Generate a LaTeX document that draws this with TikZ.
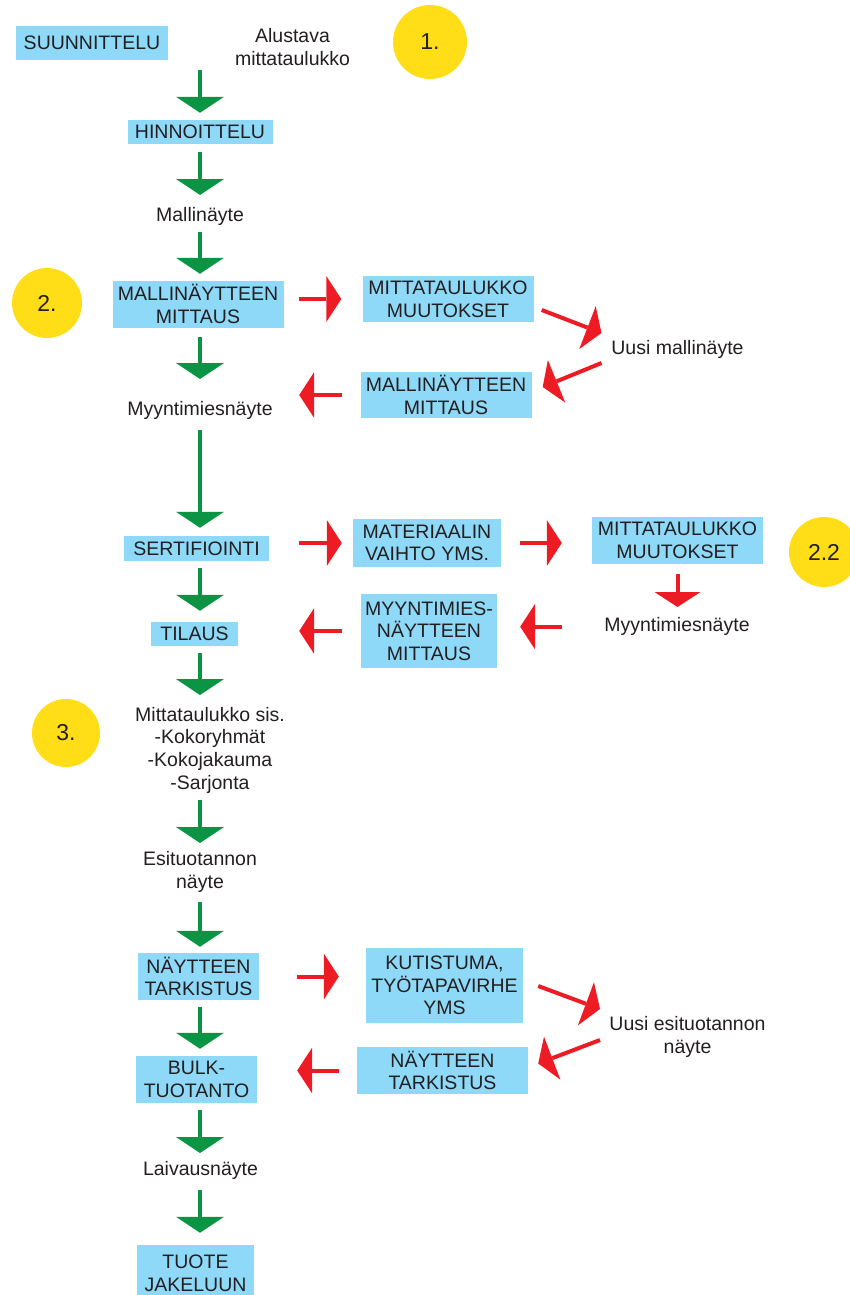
\documentclass[tikz,border=0pt]{standalone}
\usepackage{fontspec}
\setmainfont{Liberation Sans}
\usetikzlibrary{arrows.meta,calc}

\definecolor{boxblue}{HTML}{8ED8F8}
\definecolor{arrowgreen}{HTML}{0B9444}
\definecolor{arrowred}{HTML}{ED1C24}
\definecolor{badgeyellow}{HTML}{FFDE17}
\definecolor{textgray}{HTML}{231F20}

\begin{document}
\begin{tikzpicture}[x=1pt, y=-1pt,
        every node/.style={font=\fontsize{19.5}{22.7}\selectfont, text=textgray, align=center, inner sep=0pt},
        box/.style={fill=boxblue},
        badge/.style={circle, fill=badgeyellow, font=\fontsize{23}{26}\selectfont},
        garrow/.style={draw=arrowgreen, line width=4.5pt, -{Triangle[length=16pt, width=48pt, line width=0pt]}},
        rarrow/.style={draw=arrowred, line width=4pt, -{Triangle[length=15pt, width=46pt, line width=0pt]}}]

        \useasboundingbox (0,0) rectangle (850,1295);
        \coordinate (col) at (200,0);

        % planning
        \node[box, minimum width=152pt, minimum height=34pt] (suun) at (92,43) {SUUNNITTELU};
        \node (alust) at (292.5,46.8) {Alustava\\mittataulukko};
        \node[badge, minimum size=74pt] (one) at (430,42) {1.};
        \node[box, minimum width=145pt, minimum height=24pt] (hinn) at (200,132) {HINNOITTELU};
        \node (mallin) at (200,216.7) {Mallinäyte};

        % sample measuring
        \node[badge, minimum size=70pt] (two) at (47,303) {2.};
        \node[box, minimum width=171pt, minimum height=47pt] (mm1) at (198,304) {MALLINÄYTTEEN\\MITTAUS};
        \node[box, minimum width=171pt, minimum height=46pt] (mtm1) at (448,299) {MITTATAULUKKO\\MUUTOKSET};
        \node (uusi1) at (677.5,349) {Uusi mallinäyte};
        \node[box, minimum width=171pt, minimum height=46pt] (mm2) at (446,395) {MALLINÄYTTEEN\\MITTAUS};
        \node (myy1) at (200,410) {Myyntimiesnäyte};

        % certification
        \node[box, minimum width=145pt, minimum height=25pt] (sert) at (196.5,548.5) {SERTIFIOINTI};
        \node[box, minimum width=148pt, minimum height=48pt] (mat) at (427,543) {MATERIAALIN\\VAIHTO YMS.};
        \node[box, minimum width=171pt, minimum height=47pt] (mtm2) at (677.5,540.5) {MITTATAULUKKO\\MUUTOKSET};
        \node[badge, minimum size=70pt] (twotwo) at (824,552) {2.2};
        \node (myy2) at (677,626.7) {Myyntimiesnäyte};
        \node[box, minimum width=136pt, minimum height=74pt] (myymm) at (429,631) {MYYNTIMIES-\\NÄYTTEEN\\MITTAUS};
        \node[box, minimum width=87pt, minimum height=24pt] (tilaus) at (194.5,634) {TILAUS};

        % size chart and pre-production
        \node[badge, minimum size=68pt] (three) at (66,733) {3.};
        \node (mitta) at (210,750) {Mittataulukko sis.\\-Kokoryhmät\\-Kokojakauma\\-Sarjonta};
        \node (esit) at (200,872) {Esituotannon\\näyte};

        % sample check
        \node[box, minimum width=121pt, minimum height=47pt] (naytt) at (198.5,976.5) {NÄYTTEEN\\TARKISTUS};
        \node[box, minimum width=157pt, minimum height=75pt] (kut) at (444.5,985.5) {KUTISTUMA,\\TYÖTAPAVIRHE\\YMS};
        \node (uusi2) at (687.5,1037) {Uusi esituotannon\\näyte};
        \node[box, minimum width=171pt, minimum height=47pt] (naytt2) at (442.5,1070.5) {NÄYTTEEN\\TARKISTUS};
        \node[box, minimum width=121pt, minimum height=47pt] (bulk) at (196.5,1079.5) {BULK-\\TUOTANTO};

        % shipping
        \node (laiv) at (200.5,1170) {Laivausnäyte};
        \node[box, minimum width=117pt, minimum height=57pt] (tuote) at (195.5,1273.5) {TUOTE\\JAKELUUN};

        % main column
        \draw[garrow, shorten <=10pt, shorten >=7pt] (col |- suun.south) -- (col |- hinn.north);
        \draw[garrow, shorten <=8pt, shorten >=21.7pt] (col |- hinn.south) -- (col |- mallin.center);
        \draw[garrow, shorten <=15.3pt, shorten >=6.5pt] (col |- mallin.center) -- (col |- mm1.north);
        \draw[garrow, shorten <=9.5pt, shorten >=31pt] (col |- mm1.south) -- (col |- myy1.center);
        \draw[garrow, shorten <=20pt, shorten >=8pt] (col |- myy1.center) -- (col |- sert.north);
        \draw[garrow, shorten <=7pt, shorten >=11pt] (col |- sert.south) -- (col |- tilaus.north);
        \draw[garrow, shorten <=7pt, shorten >=55pt] (col |- tilaus.south) -- (col |- mitta.center);
        \draw[garrow, shorten <=50pt, shorten >=29pt] (col |- mitta.center) -- (col |- esit.center);
        \draw[garrow, shorten <=30pt, shorten >=6pt] (col |- esit.center) -- (col |- naytt.north);
        \draw[garrow, shorten <=7pt, shorten >=7pt] (col |- naytt.south) -- (col |- bulk.north);
        \draw[garrow, shorten <=7pt, shorten >=17pt] (col |- bulk.south) -- (col |- laiv.center);
        \draw[garrow, shorten <=20pt, shorten >=12pt] (col |- laiv.center) -- (col |- tuote.north);

        % first loop
        \draw[rarrow, shorten <=15.5pt, shorten >=21pt] (mtm1.west -| mm1.east) -- (mtm1.west);
        \draw[rarrow] ($(mtm1.east)+(8,11)$) -- ($(uusi1.center)+(-76,-16)$);
        \draw[rarrow] ($(uusi1.center)+(-76,14)$) -- ($(mm2.east)+(11,-8)$);
        \draw[rarrow, shorten <=18.5pt, shorten >=15.5pt] (mm2.west) -- (mm2.west -| mm1.east);

        % second loop
        \draw[rarrow, shorten <=30pt, shorten >=11pt] (mat.west -| sert.east) -- (mat.west);
        \draw[rarrow, shorten <=19pt, shorten >=30pt] (mat.east) -- (mat.east -| mtm2.west);
        \draw[rarrow, shorten <=10pt, shorten >=19.7pt] (mtm2.south) -- (mtm2.south |- myy2.center);
        \draw[rarrow, shorten <=115pt, shorten >=23pt] (myy2.center) -- (myy2.center -| myymm.east);
        \draw[rarrow, shorten <=19pt, shorten >=61pt] (myymm.west) -- (myymm.west -| tilaus.east);

        % third loop
        \draw[rarrow, shorten <=38pt, shorten >=27pt] (naytt.east) -- (naytt.east -| kut.west);
        \draw[rarrow] ($(kut.east)+(15,0.5)$) -- ($(uusi2.center)+(-87.5,-28)$);
        \draw[rarrow] ($(uusi2.center)+(-87.5,3)$) -- ($(naytt2.east)+(10,-7)$);
        \draw[rarrow, shorten <=18pt, shorten >=40pt] (naytt2.west) -- (naytt2.west -| bulk.east);

    \end{tikzpicture}
\end{document}
